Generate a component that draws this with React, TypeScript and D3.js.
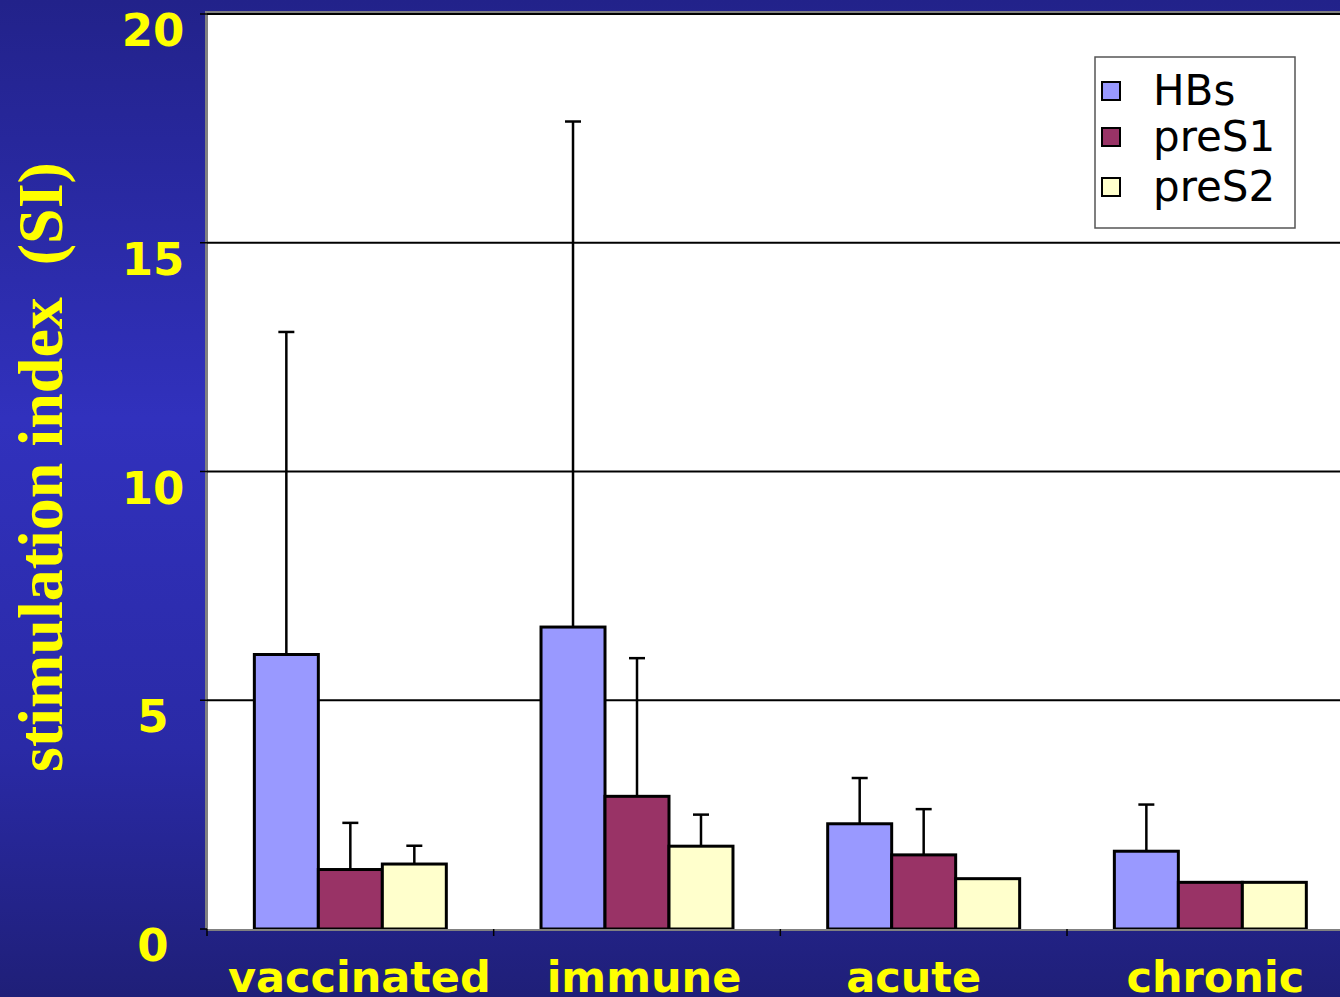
import React from "react";
import * as d3 from "d3";

const categories = ["vaccinated", "immune", "acute", "chronic"];
const seriesNames = ["HBs", "preS1", "preS2"];
const seriesColors = ["#9999ff", "#993366", "#ffffcc"];
const hbsValues = [6.0, 6.6, 2.3, 1.7];
const hbsErrors = [13.05, 17.65, 3.3, 2.72];
const preS1Values = [1.3, 2.9, 1.62, 1.02];
const preS1Errors = [2.32, 5.92, 2.62, 1.02];
const preS2Values = [1.42, 1.81, 1.1, 1.02];
const preS2Errors = [1.82, 2.5, 1.1, 1.02];
const yTicks = [0, 5, 10, 15, 20];

// layout only: small horizontal nudges of the category labels as placed in the original slide
const labelNudge = [9, 7, -10, 5];

const W = 1340;
const H = 997;

export default function App() {
  const left = 207;
  const top = 14;
  const bottom = 929;
  const right = left + 4 * 286.67;

  const y = d3.scaleLinear().domain([0, 20]).range([bottom, top]);
  const x0 = d3.scaleBand<string>().domain(categories).range([left, right]).padding(0);
  const x1 = d3
    .scaleBand<string>()
    .domain(seriesNames)
    .range([0, x0.bandwidth()])
    .paddingInner(0)
    .paddingOuter(0.74);

  const values = [hbsValues, preS1Values, preS2Values];
  const errors = [hbsErrors, preS1Errors, preS2Errors];

  const legendRows = [91, 137, 187];

  return (
    <svg
      width={W}
      height={H}
      style={{ position: "absolute", left: 0, top: 0, display: "block" }}
    >
      <defs>
        <linearGradient id="bg" x1="0" y1="0" x2="0" y2="1">
          <stop offset="0" stopColor="#22228a" />
          <stop offset="0.42" stopColor="#3131bd" />
          <stop offset="0.75" stopColor="#2a2aa6" />
          <stop offset="1" stopColor="#1f1f78" />
        </linearGradient>
      </defs>
      <rect x={0} y={0} width={W} height={H} fill="url(#bg)" />

      {/* plot area */}
      <rect x={left} y={top} width={W - left} height={bottom - top} fill="#ffffff" />
      <line x1={left} x2={W} y1={top - 2} y2={top - 2} stroke="#808080" strokeWidth={2} />
      <line x1={left - 0.5} x2={left - 0.5} y1={top - 3} y2={bottom} stroke="#808080" strokeWidth={3} />

      {/* gridlines */}
      {yTicks.filter((t) => t > 0).map((t) => (
        <line key={t} x1={left} x2={W} y1={y(t)} y2={y(t)} stroke="#000" strokeWidth={2} />
      ))}

      {/* y ticks */}
      {yTicks.map((t) => (
        <line key={"tk" + t} x1={left - 7} x2={left} y1={y(t)} y2={y(t)} stroke="#000" strokeWidth={1.5} />
      ))}

      {/* bars */}
      {categories.map((c, ci) => (
        <g key={c}>
          {seriesNames.map((s, si) => {
            const bx = (x0(c) as number) + (x1(s) as number);
            const bw = x1.bandwidth();
            const v = values[si][ci];
            const e = errors[si][ci];
            const cx = bx + bw / 2;
            return (
              <g key={s}>
                {e > v + 0.05 && (
                  <g>
                    <line x1={cx} x2={cx} y1={y(v)} y2={y(e)} stroke="#000" strokeWidth={2.5} />
                    <line x1={cx - 8} x2={cx + 8} y1={y(e)} y2={y(e)} stroke="#000" strokeWidth={2.5} />
                  </g>
                )}
                <rect
                  x={bx}
                  y={y(v)}
                  width={bw}
                  height={y(0) - y(v)}
                  fill={seriesColors[si]}
                  stroke="#000"
                  strokeWidth={3}
                />
              </g>
            );
          })}
        </g>
      ))}

      {/* x axis */}
      <line x1={left} x2={W} y1={bottom + 1} y2={bottom + 1} stroke="#808080" strokeWidth={2} />
      {categories.map((c) => (
        <line
          key={"xt" + c}
          x1={x0(c) as number}
          x2={x0(c) as number}
          y1={bottom}
          y2={bottom + 7}
          stroke="#000"
          strokeWidth={1.5}
        />
      ))}

      {/* y tick labels */}
      {yTicks.map((t) => (
        <text
          key={"yl" + t}
          x={153}
          y={y(t) + 32}
          textAnchor="middle"
          fill="#ffff00"
          fontFamily="'DejaVu Sans', Verdana, sans-serif"
          fontWeight="bold"
          fontSize={45}
        >
          {t}
        </text>
      ))}

      {/* category labels */}
      {categories.map((c, i) => (
        <text
          key={"cl" + c}
          x={(x0(c) as number) + x0.bandwidth() / 2 + labelNudge[i]}
          y={992}
          textAnchor="middle"
          fill="#ffff00"
          fontFamily="'DejaVu Sans', Verdana, sans-serif"
          fontWeight="bold"
          fontSize={43}
        >
          {c}
        </text>
      ))}

      {/* y axis title */}
      <text
        transform={`translate(62, 467) rotate(-90)`}
        textAnchor="middle"
        fill="#ffff00"
        fontFamily="'Liberation Serif', 'Times New Roman', serif"
        fontWeight="bold"
        fontSize={64}
        style={{ whiteSpace: "pre" }}
      >
        {"stimulation index  (SI)"}
      </text>

      {/* legend */}
      <rect x={1095} y={57} width={200} height={171} fill="#fff" stroke="#555" strokeWidth={1.5} />
      {seriesNames.map((s, i) => (
        <g key={"lg" + s}>
          <rect
            x={1102}
            y={legendRows[i] - 9}
            width={18}
            height={18}
            fill={seriesColors[i]}
            stroke="#000"
            strokeWidth={2}
          />
          <text
            x={1153}
            y={legendRows[i] + 14}
            fill="#000"
            fontFamily="'DejaVu Sans', Verdana, sans-serif"
            fontSize={42}
          >
            {s}
          </text>
        </g>
      ))}
    </svg>
  );
}
